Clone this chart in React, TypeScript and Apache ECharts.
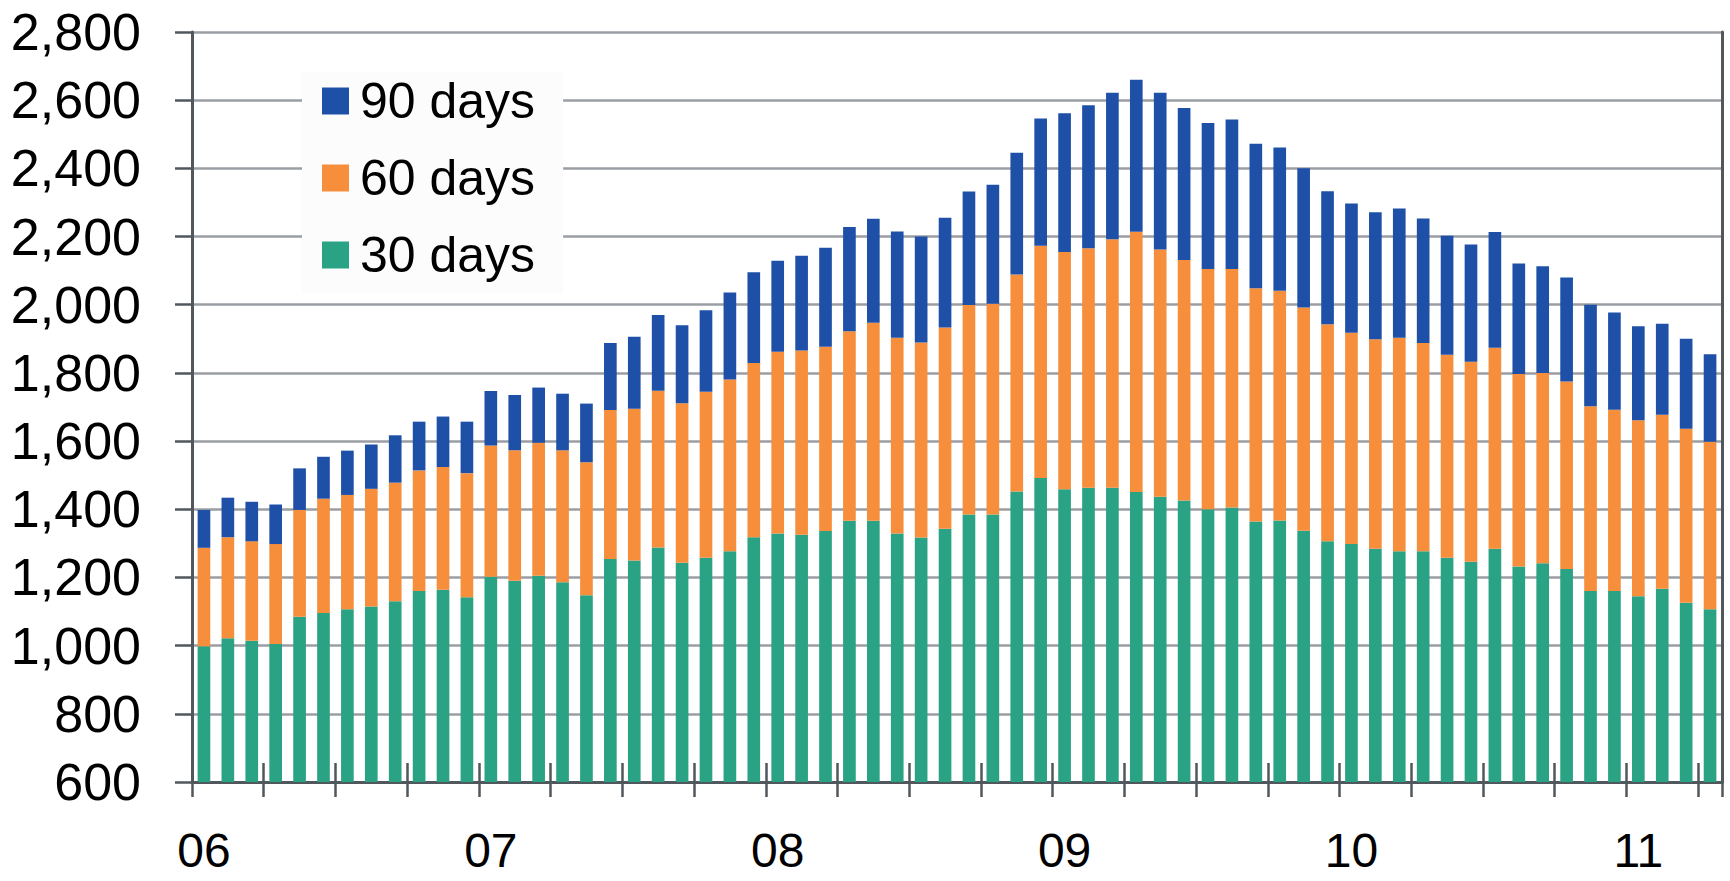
import React, { useEffect, useRef } from "react";
import * as echarts from "echarts";

// Month categories: Jan 2006 .. Apr 2011
const years = ["06", "07", "08", "09", "10", "11"];
const monthNames = ["01", "02", "03", "04", "05", "06", "07", "08", "09", "10", "11", "12"];
const categories: string[] = [];
for (const y of years) {
  for (const m of monthNames) {
    if (categories.length < 64) categories.push(`${y}-${m}`);
  }
}

const seriesNames = ["30 days", "60 days", "90 days"];
const legendOrder = ["90 days", "60 days", "30 days"];

const days30 = [
  998, 1022, 1014, 1005, 1085, 1096, 1107, 1115, 1130, 1160, 1164, 1142,
  1202, 1190, 1205, 1186, 1148, 1254, 1250, 1288, 1243, 1258, 1277, 1318,
  1329, 1325, 1336, 1366, 1366, 1329, 1317, 1343, 1385, 1385, 1452, 1492,
  1459, 1463, 1463, 1451, 1437, 1426, 1400, 1405, 1364, 1367, 1337, 1306,
  1298, 1284, 1277, 1277, 1258, 1246, 1284, 1232, 1242, 1225, 1160, 1160,
  1145, 1167, 1126, 1107,
];
const days60 = [
  289, 296, 292, 293, 313, 335, 335, 345, 348, 354, 360, 364,
  385, 383, 390, 387, 390, 437, 445, 460, 468, 487, 504, 511,
  533, 541, 541, 556, 581, 574, 572, 590, 614, 618, 637, 681,
  696, 703, 729, 763, 725, 705, 705, 700, 684, 674, 655, 637,
  620, 615, 626, 611, 595, 587, 590, 565, 558, 550, 542, 532,
  516, 510, 510, 491,
];
const days90 = [
  111, 116, 116, 116, 122, 123, 130, 130, 139, 143, 148, 151,
  160, 162, 162, 166, 172, 197, 211, 222, 229, 239, 255, 266,
  267, 278, 290, 306, 305, 312, 311, 322, 333, 349, 357, 373,
  407, 419, 430, 446, 460, 446, 428, 438, 424, 420, 408, 390,
  379, 372, 379, 365, 349, 344, 339, 324, 313, 305, 298, 285,
  276, 267, 264, 257,
];

const colors = ["#2aa284", "#f68e3c", "#1f50a8"];
const FONT = "'Liberation Sans', Arial, Helvetica, sans-serif";
const AXIS_COLOR = "#50575d";

export default function App() {
  const ref = useRef<HTMLDivElement>(null);

  useEffect(() => {
    document.body.style.margin = "0";
    if (!ref.current) return;
    const chart = echarts.init(ref.current, undefined, { renderer: "svg" });
    const values = [days30, days60, days90];
    chart.setOption({
      animation: false,
      backgroundColor: "#ffffff",
      textStyle: { fontFamily: FONT },
      grid: { left: 192, right: 8, top: 32, bottom: 99, containLabel: false },
      legend: {
        data: legendOrder,
        orient: "vertical",
        left: 302,
        top: 72,
        padding: [4, 28, 14, 20],
        backgroundColor: "#fcfcfc",
        icon: "rect",
        itemWidth: 27,
        itemHeight: 27,
        itemGap: 27,
        textStyle: {
          fontFamily: FONT,
          fontSize: 50,
          lineHeight: 50,
          color: "#000",
          padding: [0, 0, 0, 6],
        },
      },
      xAxis: [
        {
          type: "category",
          data: categories,
          boundaryGap: true,
          axisLine: { show: true, lineStyle: { color: AXIS_COLOR, width: 3 } },
          axisTick: {
            show: true,
            interval: 2,
            alignWithLabel: false,
            length: 15,
            lineStyle: { color: AXIS_COLOR, width: 2.5 },
          },
          axisLabel: {
            interval: 11,
            formatter: (v: string) => v.slice(0, 2),
            fontSize: 48,
            lineHeight: 44,
            fontFamily: FONT,
            color: "#000",
            margin: 46,
          },
          splitLine: { show: false },
        },
        {
          type: "category",
          data: categories,
          position: "bottom",
          boundaryGap: true,
          axisLine: { show: false },
          axisTick: {
            show: true,
            inside: true,
            interval: 2,
            alignWithLabel: false,
            length: 19,
            lineStyle: { color: AXIS_COLOR, width: 2.5 },
          },
          axisLabel: { show: false },
          splitLine: { show: false },
        },
      ],
      yAxis: [
        {
          type: "value",
          min: 600,
          max: 2800,
          interval: 200,
          position: "left",
          axisLine: { show: true, lineStyle: { color: AXIS_COLOR, width: 3 } },
          axisTick: { show: true, length: 17, lineStyle: { color: AXIS_COLOR, width: 2.5 } },
          axisLabel: {
            fontSize: 52,
            fontFamily: FONT,
            color: "#000",
            margin: 51,
            formatter: (v: number) => v.toLocaleString("en-US"),
          },
          splitLine: { show: true, lineStyle: { color: "#9a9ea3", width: 2.5 } },
        },
        {
          type: "value",
          min: 600,
          max: 2800,
          interval: 200,
          position: "right",
          axisLine: { show: true, lineStyle: { color: AXIS_COLOR, width: 3 } },
          axisTick: { show: false },
          axisLabel: { show: false },
          splitLine: { show: false },
        },
      ],
      series: seriesNames.map((name, i) => ({
        name,
        type: "bar",
        stack: "total",
        xAxisIndex: 0,
        yAxisIndex: 0,
        barWidth: "53%",
        itemStyle: { color: colors[i] },
        data: values[i],
      })),
    });
    return () => chart.dispose();
  }, []);

  return <div ref={ref} style={{ width: 1730, height: 881 }} />;
}
